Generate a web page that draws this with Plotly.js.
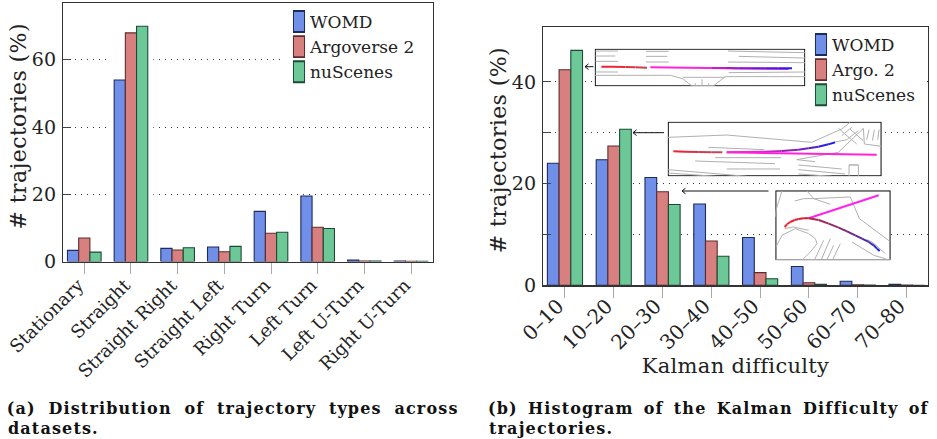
<!DOCTYPE html>
<html><head><meta charset="utf-8">
<script src="https://cdn.plot.ly/plotly-3.0.1.min.js"></script>
<style>html,body{margin:0;padding:0;background:#fff}#c{width:937px;height:439px}
.annotation-text{letter-spacing:1.15px;word-spacing:3.5px}
.ytitle,.y2title{letter-spacing:.4px}
.x2title{letter-spacing:.3px}</style></head>
<body><div id="c"></div>
<script>
const SERIF = 'DejaVu Serif';
const typeCats = ['Stationary','Straight','Straight Right','Straight Left','Right Turn','Left Turn','Left U-Turn','Right U-Turn'];
const typeWomd = [3.3,54,3.9,4.3,14.9,19.5,0.4,0.1];
const typeArgo = [7,68,3.4,2.9,8.4,10.2,0.1,0.05];
const typeNu   = [2.8,70,4.1,4.5,8.7,9.8,0.15,0.05];
const kalCats = ['0–10','10–20','20–30','30–40','40–50','50–60','60–70','70–80'];
const kalWomd = [24,24.7,21.2,16,9.4,3.7,0.8,0.2];
const kalArgo = [42.4,27.4,18.4,8.7,2.5,0.5,0.1,0.03];
const kalNu   = [46.2,30.7,15.9,5.7,1.3,0.2,0.03,0.02];
const names1 = ['WOMD','Argoverse 2','nuScenes'];
const names2 = ['WOMD','Argo. 2','nuScenes'];
const fills = ['#6F8FE8','#D88080','#6CC897'];
const edges = ['#1d2a5c','#5c2c2c','#1c4a36'];

// road sketches in the insets: polylines separated by null
const road1X = [10,78,null,10,70,null,10,78,null,10,78,null,162,230,null,162,226,null,162,230,null,408,640,null,440,640,null,408,640,null,410,640,null,8,235,272,298,null,400,372,365,null,400,640,null,272,400,null,330,330,null,310,310,null,350,350,null,298,368];
const road1Y = [15,15,null,30,30,null,46,46,null,78,78,null,16,16,null,31,31,null,48,48,null,15,20,null,31,36,null,48,50,null,80,78,null,88,88,98,119,null,92,115,119,null,92,92,null,94,94,null,100,119,null,112,119,null,112,119,null,119,119];
const road2X = [8,185,440,530,555,null,520,575,null,555,595,null,530,560,null,505,545,580,null,130,298,null,150,348,null,90,330,null,185,345,null,8,245,null,8,150,null,395,490,520,595,598,null,395,450,null,400,530,null,400,540,null,400,500,null,552,552,580,580,null,552,580,null,612,605,null,628,622,null,642,638,null,598,650];
const road2Y = [55,48,70,30,10,null,28,75,null,30,65,null,50,25,null,70,62,35,null,85,92,null,116,116,null,126,134,null,150,150,null,152,172,null,162,172,null,122,105,100,28,75,null,122,128,null,138,150,null,152,165,null,165,172,null,172,138,138,172,null,138,138,null,32,62,null,32,65,null,32,62,null,75,82];
const road3X = [30,12,10,null,68,95,125,175,null,105,125,235,262,352,null,85,110,null,38,65,110,null,12,30,70,110,130,135,115,90,null,135,112,null,155,128,null,175,148,null,185,165,null,205,182,null,240,305,340,342,null,285,300,340,null,10,356];
const road3Y = [12,70,90,null,42,35,35,52,null,12,35,30,95,162,null,95,92,null,125,120,130,null,180,145,125,140,155,170,195,220,null,218,218,null,160,218,null,155,218,null,175,218,null,170,218,null,165,205,215,218,null,158,165,200,null,218,218];

// trajectories in the insets
const traj = {
  a: [[[28,62],[60,62],[100,63],[130,64],[165,65]], ['#ee2233','#e92a3a','#dc3548','#cc4055']],
  b: [[[175,64],[590,69]], ['#ff22dd']],
  c: [[[360,66],[400,66],[440,67],[480,67],[520,67],[560,67],[600,67]], ['#c020c8','#9a20c0','#8020c8','#6020d0','#4020e0','#2020f0']],
  d: [[[25,97],[60,98],[100,99],[140,100],[172,100]], ['#ee2233','#dc3040','#c84050','#b84a60']],
  e: [[[185,100],[635,107]], ['#ff22dd']],
  f: [[[185,100],[300,98],[350,96],[400,92],[430,88],[460,83],[490,76],[510,70]], ['#e028d0','#c028c0','#9020b0','#7020b8','#5020c8','#3020e0','#1818f0']],
  g: [[[38,120],[45,112],[55,105],[68,99],[80,96],[95,94],[110,94]], ['#ff2020','#f52030','#ee2030','#e02030','#d02030','#c02838']],
  h: [[[110,94],[320,25]], ['#ff22ee']],
  i: [[[110,94],[140,99],[170,110],[200,122],[225,133],[250,145],[270,155],[290,165],[305,175],[315,185],[323,192]], ['#b02848','#a02858','#902868','#802878','#702888','#602898','#5028a8','#4028c0','#2828d8','#1818f0']]
};

const W = 937, H = 439;
const dx = (a,b) => [a/W,b/W];
const dy = (top,bottom) => [1-bottom/H,1-top/H];

const traces = [];
[typeWomd,typeArgo,typeNu].forEach((v,i)=>traces.push({type:'bar',x:typeCats,y:v,name:names1[i],legend:'legend',legendgroup:'a'+i,
  marker:{color:fills[i],line:{color:edges[i],width:1.1}},xaxis:'x',yaxis:'y',hoverinfo:'y'}));
[kalWomd,kalArgo,kalNu].forEach((v,i)=>traces.push({type:'bar',x:kalCats,y:v,name:names2[i],legend:'legend2',legendgroup:'b'+i,
  marker:{color:fills[i],line:{color:edges[i],width:1.1}},xaxis:'x2',yaxis:'y2',hoverinfo:'y'}));

function addLines(xs,ys,ax){traces.push({type:'scatter',mode:'lines',x:xs,y:ys,xaxis:'x'+ax,yaxis:'y'+ax,showlegend:false,hoverinfo:'skip',
  line:{color:'#b0b0b0',width:1},connectgaps:false});}
function addTraj(key,ax){const [pts,cols]=traj[key];
  for(let i=0;i<pts.length-1;i++){traces.push({type:'scatter',mode:'lines',x:[pts[i][0],pts[i+1][0]],y:[pts[i][1],pts[i+1][1]],
    xaxis:'x'+ax,yaxis:'y'+ax,showlegend:false,hoverinfo:'skip',line:{color:cols[i],width:2}});}}
addLines(road1X,road1Y,3); ['a','b','c'].forEach(k=>addTraj(k,3));
addLines(road2X,road2Y,4); ['d','f','e'].forEach(k=>addTraj(k,4));
addLines(road3X,road3Y,5); ['g','h','i'].forEach(k=>addTraj(k,5));

const hidden=(domain,range,anchor)=>({domain,range,anchor,visible:false,fixedrange:true});
const boxShape=(ax,r)=>({type:'rect',xref:'x'+ax,yref:'y'+ax,x0:r[0],x1:r[1],y0:r[2],y1:r[3],layer:'below',fillcolor:'#fff',line:{color:'#111',width:1.3}});
const whiteShape=(xa,ya,x0,x1,y0,y1)=>({type:'rect',xref:xa,yref:ya,x0,x1,y0,y1,layer:'between',fillcolor:'#fff',line:{width:0}});

const axX=(domain,anchor,range,size,standoff,shift)=>({domain,anchor,range,type:'category',ticks:'outside',ticklen:11,tickwidth:1,tickcolor:'#a8a8a8',
  tickangle:-45,tickfont:{family:SERIF,size,color:'#222'},ticklabelstandoff:standoff,ticklabelshift:shift,showline:true,mirror:true,linecolor:'#333',linewidth:1.2,showgrid:false,zeroline:false,fixedrange:true});
const axY=(domain,anchor,range,tv,tt)=>({domain,anchor,range,tickvals:tv,ticktext:tt,ticks:'inside',ticklen:8,tickwidth:1,tickcolor:'#444',
  tickfont:{family:SERIF,size:19,color:'#222'},ticklabelstandoff:2,showline:true,mirror:true,linecolor:'#333',linewidth:1.2,
  showgrid:true,gridcolor:'#333',griddash:'1px,5px',gridwidth:1,zeroline:false,fixedrange:true,
  title:{text:'# trajectories (%)',font:{family:SERIF,size:22,color:'#222'},standoff:0}});

const capA=['(a) Distribution of trajectory types across','datasets.'];
const capB=['(b) Histogram of the Kalman Difficulty of','trajectories.'];
const capY=[408,428];
const capAx=[12,7], capBx=[487,488];
const annotations=[];
const capFont={family:SERIF,size:16,color:'#111'};
capA.forEach((t,i)=>annotations.push({text:'<b>'+t+'</b>',xref:'paper',yref:'paper',x:capAx[i]/W,y:1-capY[i]/H,xanchor:'left',yanchor:'middle',showarrow:false,font:capFont,borderpad:0}));
capB.forEach((t,i)=>annotations.push({text:'<b>'+t+'</b>',xref:'paper',yref:'paper',x:capBx[i]/W,y:1-capY[i]/H,xanchor:'left',yanchor:'middle',showarrow:false,font:capFont,borderpad:0}));
const arrow=(x,y,ax,ay)=>({text:'',xref:'paper',yref:'paper',x:x/W,y:1-y/H,axref:'pixel',ayref:'pixel',ax,ay,showarrow:true,arrowhead:0,arrowwidth:1,arrowcolor:'#111',standoff:0,startstandoff:0});
[[585,66.7,10],[633,132.7,32],[682,191,88]].forEach(a=>{annotations.push(arrow(a[0],a[1],a[2],0),arrow(a[0],a[1],5,-4),arrow(a[0],a[1],5,4));});

const legendBase=(x,gap)=>({x:x/W,y:1-4/H,xanchor:'left',yanchor:'top',bgcolor:'rgba(0,0,0,0)',borderwidth:0,font:{family:SERIF,size:17,color:'#222'},tracegroupgap:gap,traceorder:'normal'});
const l1=legendBase(270,11), l2=legendBase(792,12); l2.y=1-27/H;

const layout={width:W,height:H,margin:{l:0,r:0,t:0,b:0},paper_bgcolor:'#fff',plot_bgcolor:'#fff',showlegend:true,
  barmode:'group',bargap:0.28,bargroupgap:0,
  xaxis:axX(dx(63,432.5),'y',[-0.456,7.46],18,-6,-6),
  yaxis:axY(dy(3,261.5),'x',[0,76.9],[0,20,40,60],['0','20','40','60']),
  xaxis2:Object.assign(axX(dx(543,928),'y2',[-0.45,7.44],20,-11,-7),{title:{text:'Kalman difficulty',font:{family:SERIF,size:21,color:'#222'},standoff:5}}),
  yaxis2:axY(dy(27,285.3),'x2',[0,50.8],[0,10,20,30,40],['0','','20','','40']),
  xaxis3:hidden(dx(594.7,805.3),[8,640],'y3'),yaxis3:hidden(dy(48.7,86.3),[121,8],'x3'),
  xaxis4:hidden(dx(667.7,881.7),[8,650],'y4'),yaxis4:hidden(dy(121.7,176.3),[172,8],'x4'),
  xaxis5:hidden(dx(775.3,890.7),[10,356],'y5'),yaxis5:hidden(dy(190.3,260.3),[220,10],'x5'),
  legend:l1,legend2:l2,
  shapes:[
    whiteShape('x','y',(110-84.3)/46.67,(153.3-84.3)/46.67,0.3,76),
    whiteShape('x','y',(283-84.3)/46.67,(430-84.3)/46.67,50,76),
    whiteShape('x2','y2',(805-565)/48.8,(926-565)/48.8,34,50.3),
    boxShape(3,[9.5,638.5,119.5,9.5]),boxShape(4,[9.5,648.5,170.5,9.5]),boxShape(5,[11.5,354.5,218.5,11.5])],
  annotations
};
Plotly.newPlot('c',traces,layout,{staticPlot:true,displayModeBar:false}).then(()=>{
  document.querySelectorAll('.legendpoints path').forEach(p=>p.setAttribute('transform','translate(29,0) scale(0.92,1.75)'));
  document.querySelectorAll('.annotation-text').forEach(t=>{ if(t.textContent===capA[0]) t.style.wordSpacing='6px'; });
  document.querySelectorAll('.ytitle,.y2title').forEach(t=>t.setAttribute('transform','translate(1,-6) '+(t.getAttribute('transform')||'')));
});
</script></body></html>
